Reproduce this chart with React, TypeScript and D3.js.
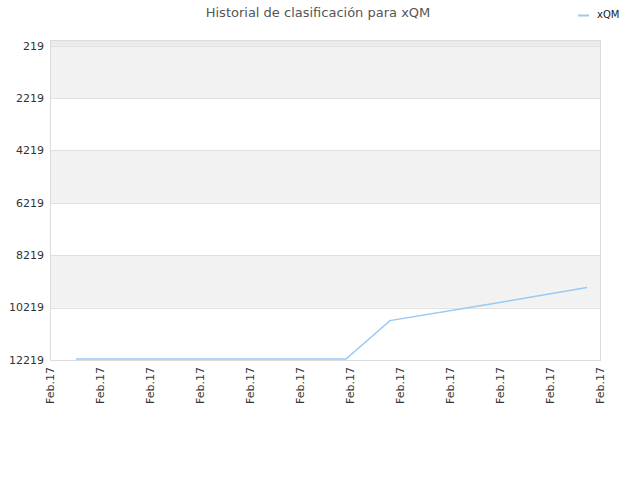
import { useEffect, useRef } from 'react';
import * as d3 from 'd3';

// chart values
const seriesName = 'xQM';
const chartTitle = 'Historial de clasificación para xQM';
const xPositions = [0.52, 5.92, 6.8, 8.6, 10.74];
const ranks = [12181, 12181, 10714, 10151, 9450];
const xTickValues = [0, 1, 2, 3, 4, 5, 6, 7, 8, 9, 10, 11];
const xTickLabels = ['Feb.17', 'Feb.17', 'Feb.17', 'Feb.17', 'Feb.17', 'Feb.17', 'Feb.17', 'Feb.17', 'Feb.17', 'Feb.17', 'Feb.17', 'Feb.17'];
const yTickValues = [219, 2219, 4219, 6219, 8219, 10219, 12219];
const bandRanges: [number, number][] = [[219, 2219], [4219, 6219], [8219, 10219]];

export default function App() {
  const ref = useRef<SVGSVGElement>(null);

  useEffect(() => {
    if (!ref.current) return;
    const svg = d3.select(ref.current);
    svg.selectAll('*').remove();

    const width = 640;
    const height = 480;
    const margin = { top: 40, right: 40, bottom: 120, left: 50 };
    const innerW = width - margin.left - margin.right;
    const innerH = height - margin.top - margin.bottom;
    const font = '"DejaVu Sans", sans-serif';

    const x = d3.scaleLinear().domain([0, 11]).range([0, innerW]);
    const y = d3.scaleLinear().domain([1, 12219]).range([0, innerH]);

    // title
    svg.append('text')
      .attr('x', 318)
      .attr('y', 17)
      .attr('text-anchor', 'middle')
      .style('font-family', font)
      .style('font-size', '13px')
      .style('fill', '#555')
      .text(chartTitle);

    // legend
    svg.append('line')
      .attr('x1', 578).attr('x2', 589)
      .attr('y1', 15.5).attr('y2', 15.5)
      .attr('stroke', '#99c9f5')
      .attr('stroke-width', 2);
    svg.append('text')
      .attr('x', 597)
      .attr('y', 17)
      .attr('dy', '0.1em')
      .style('font-family', font)
      .style('font-size', '10px')
      .style('fill', '#222')
      .text(seriesName);

    const g = svg.append('g')
      .attr('transform', `translate(${margin.left},${margin.top})`);

    // top strip above the first tick
    g.append('rect')
      .attr('x', 0).attr('y', 0)
      .attr('width', innerW)
      .attr('height', y(219))
      .attr('fill', '#ebebeb');

    // alternating bands
    g.selectAll('.band')
      .data(bandRanges)
      .join('rect')
      .attr('class', 'band')
      .attr('x', 0)
      .attr('y', d => y(d[0]))
      .attr('width', innerW)
      .attr('height', d => y(d[1]) - y(d[0]))
      .attr('fill', '#f2f2f2');

    // grid lines
    g.selectAll('.grid')
      .data(yTickValues)
      .join('line')
      .attr('class', 'grid')
      .attr('x1', 0).attr('x2', innerW)
      .attr('y1', d => Math.round(y(d)) + 0.5)
      .attr('y2', d => Math.round(y(d)) + 0.5)
      .attr('stroke', '#e0e0e0');

    // plot border
    g.append('rect')
      .attr('x', 0.5).attr('y', 0.5)
      .attr('width', innerW)
      .attr('height', innerH)
      .attr('fill', 'none')
      .attr('stroke', '#dcdcdc');

    // y tick labels
    g.selectAll('.ylab')
      .data(yTickValues)
      .join('text')
      .attr('class', 'ylab')
      .attr('x', -6)
      .attr('y', d => y(d))
      .attr('dy', '0.35em')
      .attr('text-anchor', 'end')
      .style('font-family', font)
      .style('font-size', '11px')
      .style('fill', '#333')
      .text(d => String(d));

    // x tick labels, rotated
    g.selectAll('.xlab')
      .data(xTickValues)
      .join('text')
      .attr('class', 'xlab')
      .attr('transform', d => `translate(${x(d)},${innerH + 7}) rotate(-90)`)
      .attr('dy', '0.35em')
      .attr('text-anchor', 'end')
      .style('font-family', font)
      .style('font-size', '11px')
      .style('fill', '#333')
      .text((d, i) => xTickLabels[i]);

    // series line
    const pts = xPositions.map((p, i) => [p, ranks[i]] as [number, number]);
    const line = d3.line<[number, number]>()
      .x(d => x(d[0]))
      .y(d => y(d[1]));
    g.append('path')
      .datum(pts)
      .attr('fill', 'none')
      .attr('stroke', '#99c9f5')
      .attr('stroke-width', 1.5)
      .attr('d', line);
  }, []);

  return (
    <svg
      ref={ref}
      width={640}
      height={480}
      style={{ position: 'absolute', left: 0, top: 0, background: '#fff' }}
    />
  );
}
